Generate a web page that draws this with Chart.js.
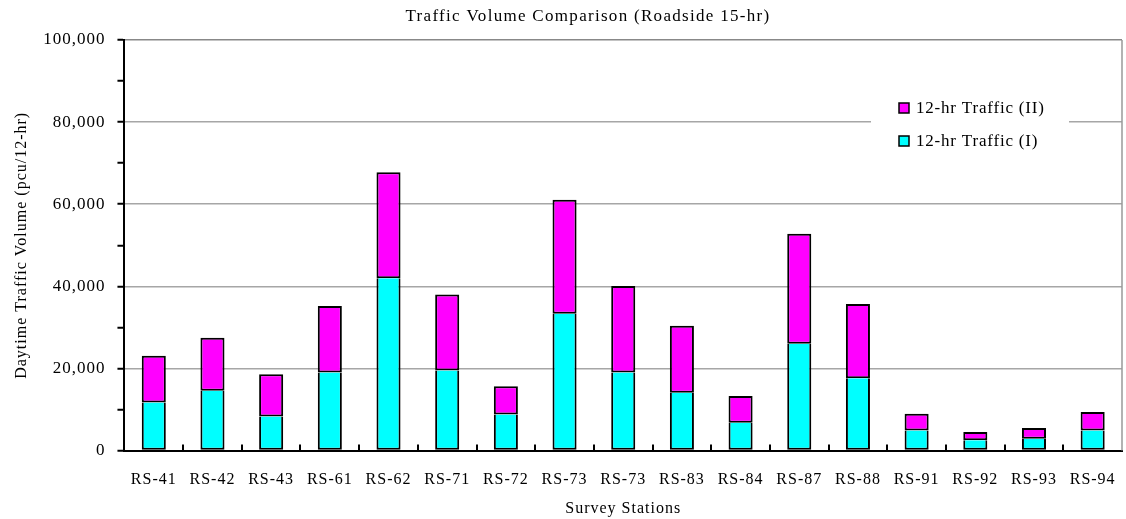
<!DOCTYPE html>
<html>
<head>
<meta charset="utf-8">
<script src="https://cdn.jsdelivr.net/npm/chart.js@4/dist/chart.umd.min.js"></script>
<style>
  html,body{margin:0;padding:0;background:#fff;overflow:hidden;}
  canvas{display:block;}
</style>
</head>
<body>
<canvas id="c" width="1126" height="519"></canvas>
<script>
const chartTitle = 'Traffic Volume Comparison (Roadside 15-hr)';
const stations = ["RS-41","RS-42","RS-43","RS-61","RS-62","RS-71","RS-72","RS-73","RS-73","RS-83","RS-84","RS-87","RS-88","RS-91","RS-92","RS-93","RS-94"];
const trafficI  = [11700,14600,8300,19000,42000,19500,8800,33300,19000,14100,6800,26000,17600,4900,2500,2900,4900];
const trafficII = [11400,12900,10300,16200,25800,18500,6900,27800,21100,16300,6500,26800,18100,4100,2000,2600,4500];
const yMax = 100000;
const yStep = 10000;
const labelStep = 20000;

const FONT = "'Liberation Serif','Times New Roman',serif";

const spacing = {
  id: 'spacing',
  beforeUpdate(chart) { chart.ctx.letterSpacing = '1px'; },
  beforeLayout(chart) { chart.ctx.letterSpacing = '1px'; },
  beforeDraw(chart) { chart.ctx.letterSpacing = '1px'; }
};

const extras = {
  id: 'extras',
  afterDatasetsDraw(chart) {
    const ctx = chart.ctx;
    const a = chart.chartArea;
    const x = chart.scales.x;
    ctx.save();
    ctx.strokeStyle = '#999';
    ctx.lineWidth = 1.5;
    ctx.beginPath();
    ctx.moveTo(a.right, a.top);
    ctx.lineTo(a.right, a.bottom);
    ctx.stroke();
    ctx.strokeStyle = '#000';
    ctx.lineWidth = 2;
    for (let i = 0; i < stations.length - 1; i++) {
      const px = (x.getPixelForValue(i) + x.getPixelForValue(i + 1)) / 2;
      ctx.beginPath();
      ctx.moveTo(Math.round(px), a.bottom);
      ctx.lineTo(Math.round(px), a.bottom - 6);
      ctx.stroke();
    }
    // legend
    const lx = a.right - 251, ly = a.top + 54, lw = 198, lh = 70;
    ctx.fillStyle = '#fff';
    ctx.fillRect(lx, ly, lw, lh);
    const items = [chart.data.datasets[1], chart.data.datasets[0]];
    ctx.letterSpacing = '0.8px';
    ctx.font = '17px ' + FONT;
    ctx.textBaseline = 'middle';
    items.forEach((ds, k) => {
      const cy = ly + 14 + k * 33;
      ctx.fillStyle = ds.backgroundColor;
      ctx.fillRect(lx + 28, cy - 5, 10, 10);
      ctx.strokeStyle = '#000';
      ctx.lineWidth = 1.5;
      ctx.strokeRect(lx + 28, cy - 5, 10, 10);
      ctx.fillStyle = '#000';
      ctx.fillText(ds.label, lx + 45, cy + 1);
    });
    // title
    ctx.letterSpacing = '1.3px';
    ctx.font = '17px ' + FONT;
    ctx.textAlign = 'center';
    ctx.textBaseline = 'alphabetic';
    ctx.fillText(chartTitle, chart.width / 2 + 25, 21);
    ctx.restore();
  }
};

new Chart(document.getElementById('c'), {
  type: 'bar',
  data: {
    labels: stations,
    datasets: [
      { label: '12-hr Traffic (I)', data: trafficI, backgroundColor: '#00FFFF', borderColor: '#000', borderWidth: {left: 2, right: 2, top: 0, bottom: 2}, borderSkipped: false, barPercentage: 0.41, categoryPercentage: 1.0 },
      { label: '12-hr Traffic (II)', data: trafficII, backgroundColor: '#FF00FF', borderColor: '#000', borderWidth: 2, borderSkipped: false, barPercentage: 0.41, categoryPercentage: 1.0 }
    ]
  },
  options: {
    responsive: false,
    maintainAspectRatio: false,
    animation: false,
    devicePixelRatio: 1,
    layout: { padding: { left: 12, right: 4, top: 40, bottom: 1 } },
    plugins: {
      legend: { display: false },
      tooltip: { enabled: false },
      title: { display: false }
    },
    scales: {
      x: {
        stacked: true,
        afterFit: (s) => { s.paddingLeft = 0; s.paddingRight = 0; },
        grid: { display: false, drawTicks: false },
        border: { display: true, color: '#000', width: 2 },
        ticks: { color: '#000', font: { family: FONT, size: 16 }, padding: 20, maxRotation: 0, autoSkip: false },
        title: { display: true, text: 'Survey Stations', color: '#000', font: { family: FONT, size: 16 }, padding: { top: -11, bottom: 0 } }
      },
      y: {
        stacked: true,
        min: 0, max: yMax,
        grid: {
          color: (c) => (c.tick && c.tick.value % labelStep === 0 && c.tick.value > 0) ? (c.tick.value === yMax ? '#888' : '#a6a6a6') : 'rgba(0,0,0,0)',
          lineWidth: 1.5,
          tickColor: '#000',
          tickLength: 7,
          tickWidth: 2
        },
        border: { display: true, color: '#000', width: 2 },
        ticks: {
          stepSize: yStep,
          color: '#000',
          font: { family: FONT, size: 17 },
          padding: 12,
          callback: (v) => v % labelStep === 0 ? v.toLocaleString('en-US') : ''
        },
        title: { display: true, text: 'Daytime Traffic Volume (pcu/12-hr)', color: '#000', font: { family: FONT, size: 16 }, padding: { top: 0, bottom: 0 } }
      }
    }
  },
  plugins: [spacing, extras]
});
</script>
</body>
</html>
